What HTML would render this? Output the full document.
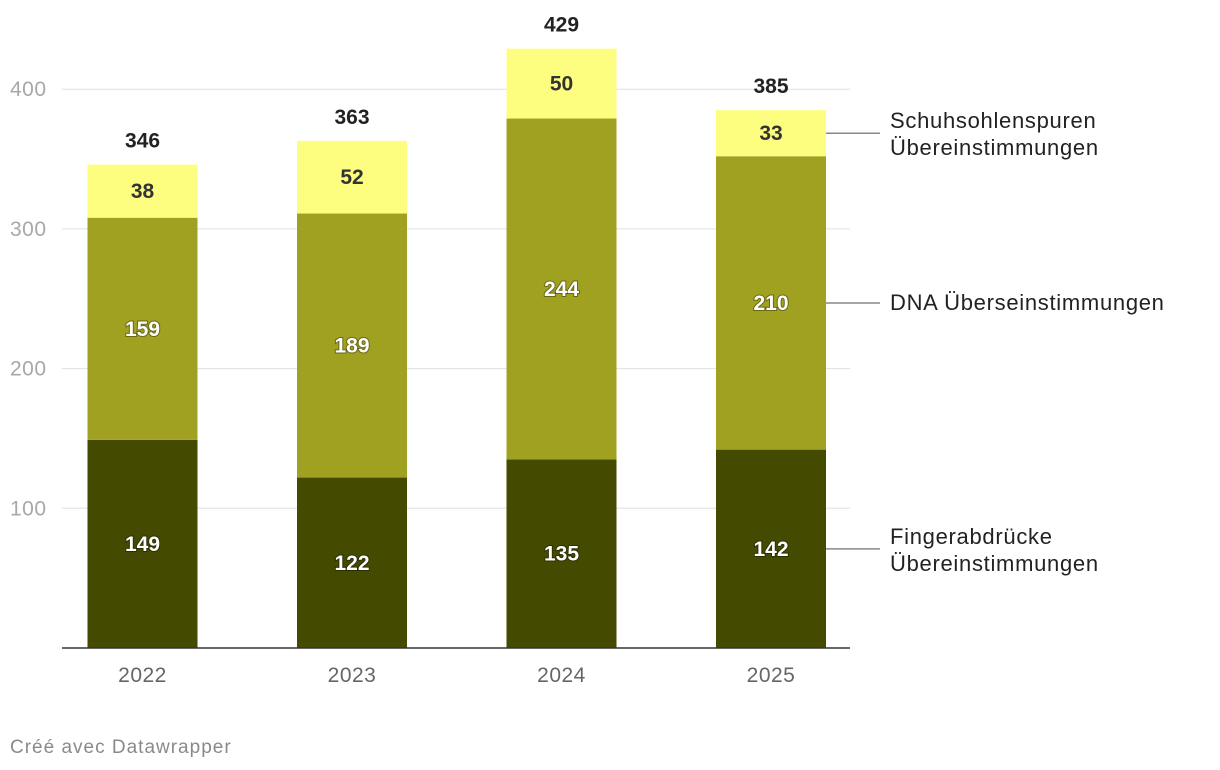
<!DOCTYPE html>
<html><head><meta charset="utf-8">
<style>
body{margin:0;background:#fff;font-family:"Liberation Sans",sans-serif;}
svg{display:block}
</style></head>
<body>
<svg id="chart" width="1220" height="770"></svg>
<script>
const years = ["2022","2023","2024","2025"];
const finger = [149,122,135,142];
const dna = [159,189,244,210];
const schuh = [38,52,50,33];
const yTicks = [100,200,300,400];
const seriesNames = ["Fingerabdrücke|Übereinstimmungen","DNA Überseinstimmungen","Schuhsohlenspuren|Übereinstimmungen"];

const NS="http://www.w3.org/2000/svg";
const svg=document.getElementById('chart');
const y0=648, k=1.397;
const y=v=>y0-v*k;
const xC=i=>142.5+i*209.5;
const bw=110;
function el(t,a,txt){const e=document.createElementNS(NS,t);for(const p in a)e.setAttribute(p,a[p]);if(txt!==undefined)e.textContent=txt;svg.appendChild(e);return e;}

yTicks.forEach(t=>{
  const g=el('line',{x1:62,x2:850,y1:y(t),y2:y(t),stroke:'#e0e0e0','stroke-width':1});
  
  
  const l=el('text',{x:10,y:y(t)+7,'font-size':21,fill:'#a8a8a8','letter-spacing':0.5},t);
  
  
});

const colors=['#444a00','#a0a021','#fdfd80'];
const series=[finger,dna,schuh];
years.forEach((yr,i)=>{
  let base=0;
  series.forEach((s,j)=>{
    const v=s[i];
    const r=el('rect',{x:xC(i)-bw/2,y:y(base+v),width:bw,height:v*k,fill:colors[j]});
    
    
    const mid=y(base+v/2);
    const lbl=el('text',{x:xC(i),y:mid+7,'text-anchor':'middle','font-size':21,'font-weight':'bold',fill:j<2?'#fff':'#333',style:j<2?'paint-order:stroke;stroke:rgba(0,0,0,0.35);stroke-width:2px':''},v);
    
    
    base+=v;
  });
  const tot=el('text',{x:xC(i),y:y(base)-17,'text-anchor':'middle','font-size':21,'font-weight':'bold',fill:'#222'},base);
  
  
  const xl=el('text',{x:xC(i),y:682,'text-anchor':'middle','font-size':21,fill:'#666','letter-spacing':0.5},yr);
  
  
});
const ax=el('line',{x1:62,x2:850,y1:y0,y2:y0,stroke:'#333','stroke-width':1.5});



const last=years.length-1;
let base=0;
series.forEach((s,j)=>{
  const v=s[last];
  const my=y(base+v/2);
  base+=v;
  const ln=el('line',{x1:xC(last)+bw/2,x2:880,y1:my,y2:my,stroke:'#888','stroke-width':1.5});
  
  
  const parts=seriesNames[j].split('|');
  const t=el('text',{x:890,'font-size':22,fill:'#222','letter-spacing':0.7});
  
  
  const off=parts.length>1?-5:7;
  parts.forEach((p,pi)=>{
    const ts=document.createElementNS(NS,'tspan');
    ts.setAttribute('x',890);
    ts.setAttribute('y',my+off+pi*27);
    ts.textContent=p;t.appendChild(ts);
  });
});
const f=el('text',{x:10,y:753,'font-size':19,fill:'#8a8a8a','letter-spacing':1},'Créé avec Datawrapper');


</script>
</body></html>
